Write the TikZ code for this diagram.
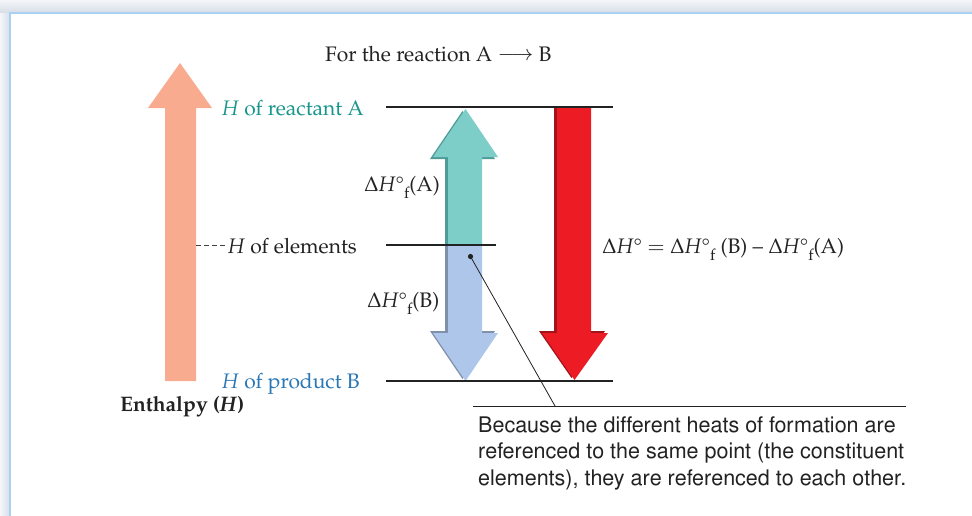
\documentclass[tikz,border=0pt]{standalone}
\usepackage[T1]{fontenc}
\usepackage{textcomp}
\usepackage{mathpazo}
\usepackage{helvet}
\definecolor{salmonc}{HTML}{F9AB90}
\definecolor{tealc}{HTML}{7DCDC8}
\definecolor{tealsh}{HTML}{4F9B97}
\definecolor{bluec}{HTML}{AEC6E9}
\definecolor{bluesh}{HTML}{7F90AB}
\definecolor{redc}{HTML}{ED1C24}
\definecolor{redsh}{HTML}{A0141A}
\definecolor{tealtext}{HTML}{17968C}
\definecolor{bluetext}{HTML}{2A77B5}
\definecolor{framec}{HTML}{A9D2F2}
\definecolor{shadowin}{HTML}{D6DDE7}
\definecolor{shadowout}{HTML}{F4F6F9}
\definecolor{inkc}{HTML}{222222}
\newcommand\dHsym{$\Delta$\textit{H}\textdegree}
\newcommand\subf{\raisebox{-0.36em}{\fontsize{16}{16}\selectfont f}}
\tikzset{
  serif/.style={font=\fontsize{21}{26}\selectfont, inner sep=0pt, anchor=base west, text=inkc},
  levelline/.style={draw=inkc, line width=2pt},
}
\begin{document}
\begin{tikzpicture}[x=1pt,y=-1pt]
\useasboundingbox (0,0) rectangle (972,515);
% frame with soft shadow
\shade[top color=shadowout, bottom color=shadowin] (0,0) rectangle (972,13);
\shade[left color=shadowout, right color=shadowin] (0,13) rectangle (10,515);
\fill[white] (10,13) rectangle (980,520);
\draw[framec, line width=1.5pt] (10,520) -- (10,13) -- (980,13);

% enthalpy axis arrow
\fill[salmonc] (165,381) -- (165,108) -- (148,108) -- (180,63) -- (212,108) -- (196,108) -- (196,381) -- cycle;

% blue arrow (formation of B)
\begin{scope}[shift={(-3,-2)}]
\fill[bluesh] (448,247) -- (448,333) -- (433,333) -- (465.5,381) -- (498,333) -- (482,333) -- (482,247) -- cycle;
\end{scope}
\fill[bluec] (448,245) -- (448,333) -- (433,333) -- (465.5,381) -- (498,333) -- (482,333) -- (482,245) -- cycle;

% teal arrow (formation of A)
\begin{scope}[shift={(-3,2)}]
\fill[tealsh] (448,243) -- (448,157) -- (433,157) -- (465.5,109) -- (498,157) -- (482,157) -- (482,243) -- cycle;
\end{scope}
\fill[tealc] (448,245) -- (448,157) -- (433,157) -- (465.5,109) -- (498,157) -- (482,157) -- (482,245) -- cycle;

% red arrow (reaction)
\begin{scope}[shift={(-3,-2)}]
\fill[redsh] (557,109) -- (557,333) -- (542,333) -- (574.5,380) -- (608,333) -- (591,333) -- (591,109) -- cycle;
\end{scope}
\fill[redc] (557,107) -- (557,333) -- (542,333) -- (574.5,380) -- (608,333) -- (591,333) -- (591,107) -- cycle;

% level lines
\coordinate (rA1) at (386,107); \coordinate (rA2) at (613,107);
\coordinate (el1) at (386,245); \coordinate (el2) at (496,245);
\coordinate (pB1) at (386,381); \coordinate (pB2) at (613,381);
\draw[levelline] (rA1) -- (rA2);
\draw[levelline] (el1) -- (el2);
\draw[levelline] (pB1) -- (pB2);

% labels
\node[serif] (title) at (325,61.5) {For the reaction A \raisebox{0.1ex}{$\longrightarrow$} B};
\node[serif, text=tealtext] (hA) at (222,115) {\textit{H} of reactant A};
\node[serif] (hE) at (228,253) {\textit{H} of elements};
\node[serif, text=bluetext] (hB) at (222,388) {\textit{H} of product B};
\node[serif] (enth) at (120,411) {\textbf{Enthalpy (\textit{H})}};
\node[serif] (dA) at (364,191) {\dHsym\subf(A)};
\node[serif] (dB) at (367,307) {\dHsym\subf(B)};
\node[serif] (eq) at (602,253) {\dHsym\ $=$ \dHsym\subf\ (B) -- \dHsym\subf(A)};

% dashed pointer to H of elements
\coordinate (dash1) at (196,245);
\draw[inkc!85, line width=1pt, dash pattern=on 4.5pt off 3.5pt] (dash1) -- ([xshift=-3pt]hE.west |- dash1);

% callout
\coordinate (dot) at (470.5,256.5);
\coordinate (cEnd) at (555,406);
\coordinate (r1) at (473,406); \coordinate (r2) at (906,406);
\fill[inkc] (dot) circle (2.6pt);
\draw[inkc, line width=0.8pt] (dot) -- (cEnd);
\draw[inkc, line width=1pt] (r1) -- (r2);
\node[inner sep=0pt, anchor=north west, align=left, text=inkc,
      font=\sffamily\fontsize{21.5}{26.5}\selectfont] (note) at (478,416)
  {Because the different heats of formation are\\
   referenced to the same point (the constituent\\
   elements), they are referenced to each other.};
\end{tikzpicture}
\end{document}
